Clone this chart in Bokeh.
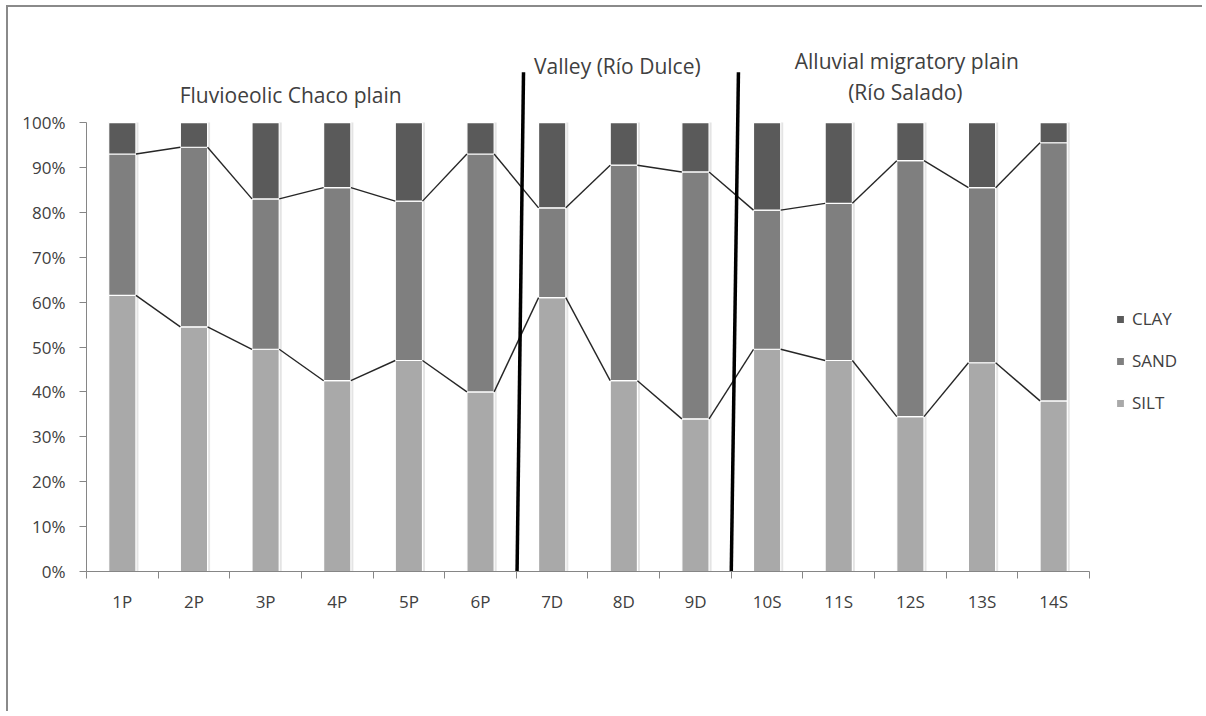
import numpy as np
from bokeh.plotting import figure
from bokeh.models import (ColumnDataSource, FixedTicker, Legend, LegendItem, Label)
from bokeh.embed import file_html
from bokeh.resources import INLINE

# ---------------- data ----------------
samples = ["1P", "2P", "3P", "4P", "5P", "6P", "7D", "8D", "9D",
           "10S", "11S", "12S", "13S", "14S"]
silt = [61.5, 54.5, 49.5, 42.5, 47.0, 40.0, 61.0, 42.5, 34.0, 49.5, 47.0, 34.5, 46.5, 38.0]
sand = [31.5, 40.0, 33.5, 43.0, 35.5, 53.0, 20.0, 48.0, 55.0, 31.0, 35.0, 57.0, 39.0, 57.5]
clay = [7.0, 5.5, 17.0, 14.5, 17.5, 7.0, 19.0, 9.5, 11.0, 19.5, 18.0, 8.5, 14.5, 4.5]
y_ticks = [0, 10, 20, 30, 40, 50, 60, 70, 80, 90, 100]
y_tick_labels = ["0%", "10%", "20%", "30%", "40%", "50%", "60%", "70%", "80%", "90%", "100%"]
series_names = ["SILT", "SAND", "CLAY"]
series_colors = ["#a9a9a9", "#7f7f7f", "#5a5a5a"]

# region dividers: (x at bottom, x at top, top value) in category-index units
divider_x0 = [5.51, 8.50]
divider_x1 = [5.60, 8.60]
divider_top = 111.2
region_titles = ["Fluvioeolic Chaco plain", "Valley (Río Dulce)",
                 "Alluvial migratory plain", "(Río Salado)"]
region_title_x = [2.35, 6.91, 10.95, 10.93]
region_title_y = [106.2, 112.7, 113.6, 106.9]

# ---------------- figure ----------------
BAR_W = 0.38
FONT = "Open Sans"
TXT = "#404040"

n = len(samples)
xs = np.arange(n, dtype=float)
src = ColumnDataSource(dict(x=xs, SILT=silt, SAND=sand, CLAY=clay,
                            xs_shadow=xs + 0.035,
                            total=np.array(silt) + np.array(sand) + np.array(clay)))

p = figure(width=1196, height=706, x_range=(-0.5, 14.91), y_range=(0, 118.5),
           output_backend="svg", toolbar_location=None,
           min_border_left=78, min_border_right=14, min_border_top=32, min_border_bottom=142,
           background_fill_color="white", border_fill_color="white",
           styles={"border-left": "2px solid #8a8a8a", "border-top": "2px solid #8a8a8a",
                   "margin-left": "6px", "margin-top": "5px"})
p.outline_line_color = None
p.xgrid.visible = False
p.ygrid.visible = False

# bar shadows
p.vbar(x="xs_shadow", top="total", bottom=0, width=BAR_W, source=src,
       fill_color="#e4e4e4", line_color=None)

renderers = p.vbar_stack(series_names, x="x", width=BAR_W, source=src,
                         fill_color=series_colors, line_color="white", line_width=1.2)

# series lines connecting segment boundaries
cum1 = np.array(silt)
cum2 = np.array(silt) + np.array(sand)
for cum in (cum1, cum2):
    p.segment(x0=xs[:-1] + BAR_W / 2, y0=cum[:-1], x1=xs[1:] - BAR_W / 2, y1=cum[1:],
              line_color="#262626", line_width=1.4)

# region dividers
p.segment(x0=divider_x0, y0=[0, 0], x1=divider_x1, y1=[divider_top, divider_top],
          line_color="black", line_width=3.5)

for t, tx, ty in zip(region_titles, region_title_x, region_title_y):
    p.add_layout(Label(x=tx, y=ty, text=t, text_align="center", text_baseline="middle",
                       text_font=FONT, text_font_size="21px", text_color=TXT))

# axes
xa = p.xaxis[0]
xa.ticker = FixedTicker(ticks=list(xs), minor_ticks=list(np.arange(-0.5, n, 1.0)))
xa.major_label_overrides = {float(i): s for i, s in enumerate(samples)}
xa.major_tick_out = 0
xa.major_tick_in = 0
xa.minor_tick_out = 7
xa.minor_tick_in = 0
xa.minor_tick_line_color = "#868686"
xa.axis_line_color = "#868686"
xa.major_label_standoff = 11
xa.major_label_text_font = FONT
xa.major_label_text_font_size = "17px"
xa.major_label_text_color = TXT
xa.bounds = (-0.5, n - 0.5)

ya = p.yaxis[0]
ya.ticker = FixedTicker(ticks=y_ticks, minor_ticks=[])
ya.major_label_overrides = {t: l for t, l in zip(y_ticks, y_tick_labels)}
ya.bounds = (0, 100)
ya.major_tick_out = 7
ya.major_tick_in = 0
ya.minor_tick_out = 0
ya.minor_tick_in = 0
ya.major_tick_line_color = "#868686"
ya.axis_line_color = "#868686"
ya.major_label_standoff = 14
ya.major_label_text_font = FONT
ya.major_label_text_font_size = "17px"
ya.major_label_text_color = TXT

# legend (CLAY, SAND, SILT top to bottom)
items = [LegendItem(label=series_names[i], renderers=[renderers[i]]) for i in (2, 1, 0)]
legend = Legend(items=items, location=(1029, 157), orientation="vertical",
                glyph_width=10, glyph_height=10, label_height=20, spacing=19,
                label_text_font=FONT, label_text_font_size="17px", label_text_color=TXT,
                padding=0, margin=0, border_line_color=None, background_fill_alpha=0,
                label_standoff=7)
p.add_layout(legend, "center")

open("out.html", "w").write(file_html(p, INLINE))
